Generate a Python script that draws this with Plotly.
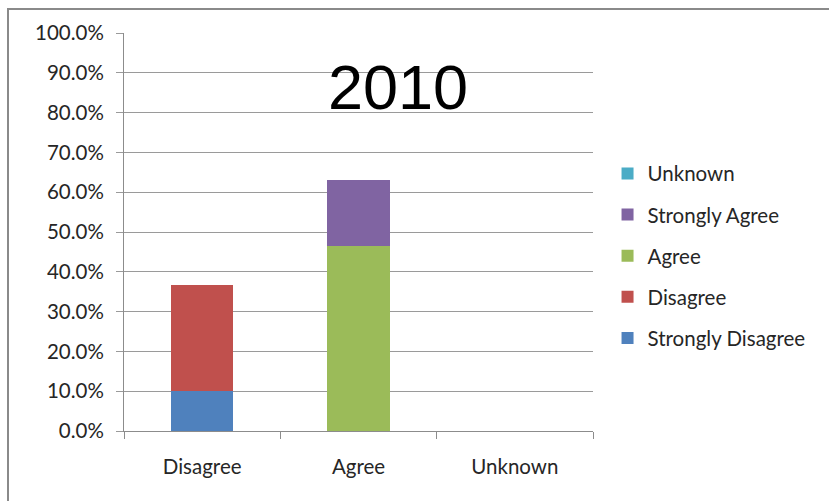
import plotly.graph_objects as go

# Survey responses for 2010, share of respondents
categories = ["Disagree", "Agree", "Unknown"]
series_names = ["Strongly Disagree", "Disagree", "Agree", "Strongly Agree", "Unknown"]
strongly_disagree = [0.100, 0.0, 0.0]
disagree = [0.268, 0.0, 0.0]
agree = [0.0, 0.465, 0.0]
strongly_agree = [0.0, 0.166, 0.0]
unknown = [0.0, 0.0, 0.0]
y_ticks = [i / 10 for i in range(11)]
title_text = "2010"

series_values = [strongly_disagree, disagree, agree, strongly_agree, unknown]
colors = ["#4F81BD", "#C0504D", "#9BBB59", "#8064A2", "#4BACC6"]

fig = go.Figure()
n = len(series_names)
for i, (name, vals, col) in enumerate(zip(series_names, series_values, colors)):
    fig.add_trace(go.Bar(
        x=categories, y=vals, name=name, legendgroup=name,
        legendrank=1000 + (n - i),  # top series listed first in the legend
        marker=dict(color=col, line=dict(width=0)),
    ))

W, H = 829, 501
L, R, T, B = 124, 236, 33, 70
PW, PH = W - L - R, H - T - B

fig.update_layout(
    width=W, height=H,
    barmode="stack", bargap=0.603,
    paper_bgcolor="white", plot_bgcolor="white",
    margin=dict(l=L, r=R, t=T, b=B, pad=0),
    font=dict(family="Lato, 'Open Sans', sans-serif", size=20.5, color="#262626"),
    legend=dict(
        traceorder="grouped", x=1.031, y=0.697, xanchor="left", yanchor="top",
        font=dict(size=20.5), tracegroupgap=11.5, itemwidth=30,
        bgcolor="rgba(0,0,0,0)",
    ),
    xaxis=dict(
        type="category", showgrid=False, tickson="boundaries",
        ticks="outside", ticklen=7, tickcolor="#8c8c8c", tickwidth=1,
        showline=True, linecolor="#8c8c8c", linewidth=1,
        ticklabelstandoff=17,
    ),
    yaxis=dict(
        range=[0, 1], tickvals=y_ticks, tickformat=".1%",
        showgrid=True, gridcolor="#9a9a9a", gridwidth=1,
        ticks="outside", ticklen=7, tickcolor="#9a9a9a",
        showline=True, linecolor="#8c8c8c", linewidth=1,
        zeroline=False, ticklabelstandoff=8,
    ),
    annotations=[dict(
        text=title_text, xref="paper", yref="paper",
        x=(398 - L) / PW, y=0.864, xanchor="center", yanchor="middle",
        showarrow=False,
        font=dict(family="'Liberation Sans', Arial, sans-serif", size=63, color="black"),
    )],
    shapes=[
        # chart frame (top and left edges)
        dict(type="line", xref="paper", yref="paper",
             x0=(7 - L) / PW, x1=(W + 5 - L) / PW,
             y0=(H - B - 9) / PH, y1=(H - B - 9) / PH,
             line=dict(color="#8a8a8a", width=2)),
        dict(type="line", xref="paper", yref="paper",
             x0=(8 - L) / PW, x1=(8 - L) / PW,
             y0=(H - B - 9) / PH, y1=(H - B - H - 5) / PH,
             line=dict(color="#8a8a8a", width=2)),
    ],
)

fig.write_html("out.html")
